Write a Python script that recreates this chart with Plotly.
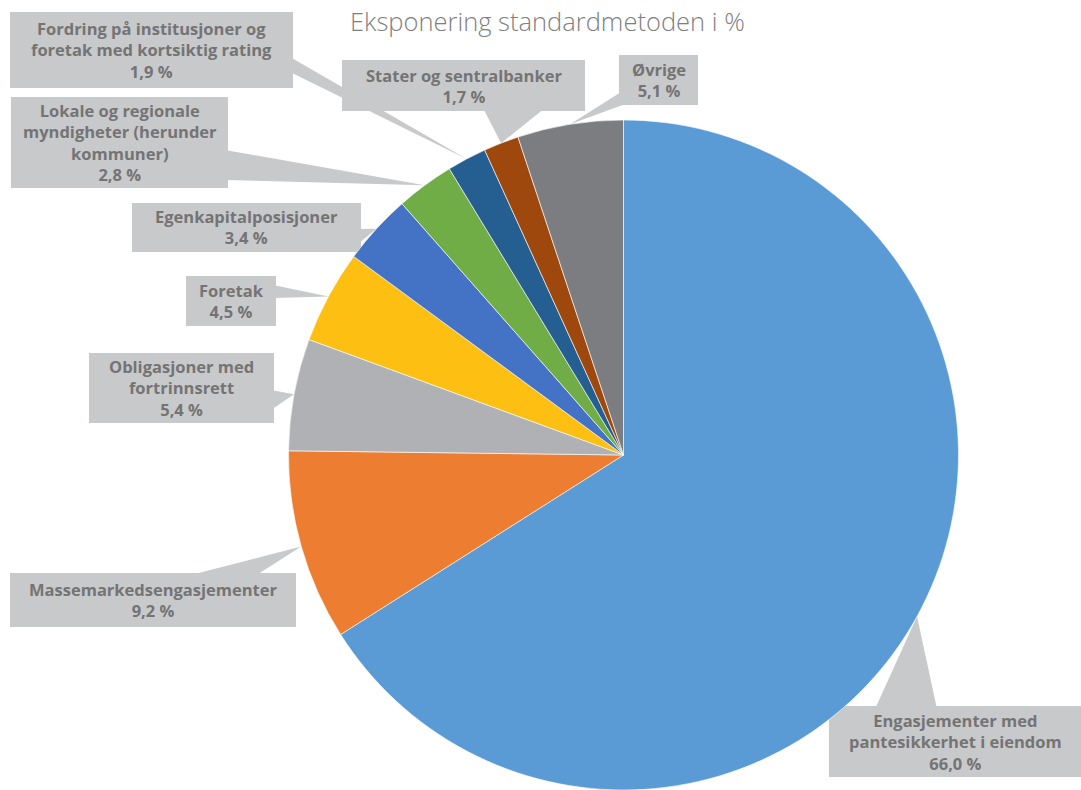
import plotly.graph_objects as go
import math

# Exposure under the standardised approach, share in percent
categories = [
    "Engasjementer med pantesikkerhet i eiendom",
    "Massemarkedsengasjementer",
    "Obligasjoner med fortrinnsrett",
    "Foretak",
    "Egenkapitalposisjoner",
    "Lokale og regionale myndigheter (herunder kommuner)",
    "Fordring på institusjoner og foretak med kortsiktig rating",
    "Stater og sentralbanker",
    "Øvrige",
]
values = [66.0, 9.2, 5.4, 4.5, 3.4, 2.8, 1.9, 1.7, 5.1]

# How each category name is wrapped inside its callout
label_lines = [
    ["Engasjementer med", "pantesikkerhet i eiendom"],
    ["Massemarkedsengasjementer"],
    ["Obligasjoner med", "fortrinnsrett"],
    ["Foretak"],
    ["Egenkapitalposisjoner"],
    ["Lokale og regionale", "myndigheter (herunder", "kommuner)"],
    ["Fordring på institusjoner og", "foretak med kortsiktig rating"],
    ["Stater og sentralbanker"],
    ["Øvrige"],
]

colors = ["#5B9BD5", "#ED7D31", "#B0B1B4", "#FCBF12", "#4472C4",
          "#70AD47", "#255E91", "#9E480E", "#7C7D81"]

title = "Eksponering standardmetoden i %"

W, H = 1081, 790
PIE_CX, PIE_CY, PIE_R = 623.5, 455.0, 335.0

# Callout boxes (x0, y0, x1, y1 in pixels) and the two base points of each pointer
callouts = [
    dict(box=(829, 706, 1081, 777), base=((875, 709), (937, 709))),
    dict(box=(10, 573, 296, 627), base=((187, 576), (255, 576))),
    dict(box=(89, 353, 274, 423), base=((271, 390), (271, 410))),
    dict(box=(186, 276, 276, 326), base=((273, 285), (273, 298))),
    dict(box=(132, 203, 361, 252), base=((358, 229), (358, 244))),
    dict(box=(11, 97, 228, 188), base=((225, 150), (225, 180))),
    dict(box=(10, 12, 293, 88), base=((290, 57), (290, 72))),
    dict(box=(342, 60, 585, 111), base=((483, 108), (545, 108))),
    dict(box=(619, 55, 698, 105), base=((621, 92), (628, 103))),
]

BOX_FILL = "#C8C9CB"
TEXT_COLOR = "#747474"


def px(x):
    return x / W


def py(y):
    return 1 - y / H


fig = go.Figure()

fig.add_trace(go.Pie(
    labels=categories,
    values=values,
    marker=dict(colors=colors, line=dict(color="white", width=0.6)),
    sort=False,
    direction="clockwise",
    rotation=0,
    textinfo="none",
    hoverinfo="label+percent",
    showlegend=False,
    domain=dict(x=[px(PIE_CX - PIE_R), px(PIE_CX + PIE_R)],
                y=[py(PIE_CY + PIE_R), py(PIE_CY - PIE_R)]),
))

total = sum(values)
shapes = []
annotations = []
cum = 0.0
for val, lines, co in zip(values, label_lines, callouts):
    # pointer tip sits on the rim at the middle of the slice
    mid = (cum + val / 2) / total
    cum += val
    theta = 2 * math.pi * mid
    tx = PIE_CX + PIE_R * math.sin(theta)
    ty = PIE_CY - PIE_R * math.cos(theta)

    x0, y0, x1, y1 = co["box"]
    shapes.append(dict(type="rect", xref="paper", yref="paper",
                       x0=px(x0), x1=px(x1), y0=py(y1), y1=py(y0),
                       fillcolor=BOX_FILL, line=dict(width=0), layer="below"))
    (bx0, by0), (bx1, by1) = co["base"]
    path = (f"M {px(bx0)},{py(by0)} L {px(tx)},{py(ty)} "
            f"L {px(bx1)},{py(by1)} Z")
    shapes.append(dict(type="path", xref="paper", yref="paper", path=path,
                       fillcolor=BOX_FILL, line=dict(width=0), layer="below"))

    text = "<br>".join(lines + [f"{val:.1f} %".replace(".", ",")])
    annotations.append(dict(
        x=px((x0 + x1) / 2), y=py((y0 + y1) / 2),
        xref="paper", yref="paper", xanchor="center", yanchor="middle",
        text=f"<b>{text}</b>", showarrow=False, align="center",
        font=dict(family="Open Sans", size=16.5, color=TEXT_COLOR),
    ))

annotations.append(dict(
    x=px(547.5), y=py(21), xref="paper", yref="paper",
    xanchor="center", yanchor="middle", showarrow=False,
    text=title,
    font=dict(family="Open Sans", size=25.5, color="#7F7F7F", weight=300),
))

fig.update_layout(
    width=W, height=H,
    margin=dict(l=0, r=0, t=0, b=0),
    paper_bgcolor="white",
    plot_bgcolor="white",
    shapes=shapes,
    annotations=annotations,
)

fig.write_html("out.html")
